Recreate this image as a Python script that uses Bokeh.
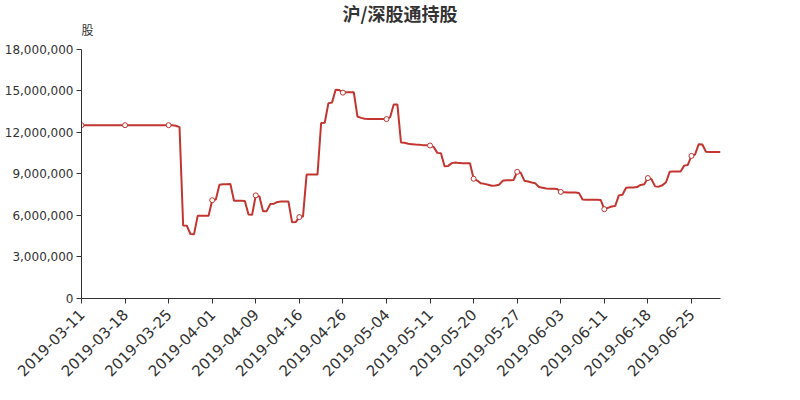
import math
from bokeh.plotting import figure
from bokeh.models import Range1d, FixedTicker, NumeralTickFormatter, Label
from bokeh.embed import file_html
from bokeh.resources import INLINE

# ---- data ----
tick_dates = ["2019-03-11", "2019-03-18", "2019-03-25", "2019-04-01", "2019-04-09",
              "2019-04-16", "2019-04-26", "2019-05-04", "2019-05-11", "2019-05-20",
              "2019-05-27", "2019-06-03", "2019-06-11", "2019-06-18", "2019-06-25"]
label_step = 12  # categories between labelled dates

holdings = [
    12520000, 12520000, 12520000, 12520000, 12520000, 12520000, 12520000, 12520000, 12520000, 12520000, 12520000, 12520000,
    12520000, 12520000, 12520000, 12520000, 12520000, 12520000, 12520000, 12520000, 12520000, 12520000, 12520000, 12520000,
    12520000, 12520000, 12480000, 12380000, 5280000, 5260000, 4660000, 4650000, 5970000, 5970000, 5970000, 5980000,
    7100000, 7150000, 8220000, 8250000, 8260000, 8280000, 7060000, 7060000, 7060000, 7050000, 6060000, 6050000,
    7450000, 7380000, 6300000, 6310000, 6820000, 6850000, 6980000, 7000000, 7000000, 7000000, 5500000, 5520000,
    5880000, 5920000, 8950000, 8950000, 8950000, 8950000, 12680000, 12700000, 14100000, 14150000, 15080000, 15060000,
    14870000, 14900000, 14900000, 14900000, 13150000, 13050000, 12980000, 12970000, 12970000, 12970000, 12970000, 12970000,
    12960000, 13100000, 14020000, 14020000, 11270000, 11250000, 11180000, 11150000, 11120000, 11100000, 11080000, 11080000,
    11050000, 10950000, 10520000, 10500000, 9550000, 9580000, 9780000, 9820000, 9780000, 9770000, 9770000, 9770000,
    8650000, 8520000, 8320000, 8280000, 8220000, 8150000, 8160000, 8220000, 8500000, 8550000, 8550000, 8560000,
    9150000, 9080000, 8500000, 8450000, 8380000, 8320000, 8050000, 8000000, 7940000, 7920000, 7920000, 7910000,
    7700000, 7680000, 7660000, 7650000, 7650000, 7630000, 7150000, 7130000, 7130000, 7130000, 7130000, 7120000,
    6450000, 6550000, 6650000, 6680000, 7450000, 7500000, 8000000, 8020000, 8020000, 8050000, 8200000, 8250000,
    8700000, 8620000, 8100000, 8080000, 8180000, 8400000, 9150000, 9170000, 9170000, 9180000, 9600000, 9650000,
    10300000, 10400000, 11150000, 11120000, 10600000, 10580000, 10580000, 10580000, 10580000,
]
y_ticks = [0, 3000000, 6000000, 9000000, 12000000, 15000000, 18000000]

title_text = "沪/深股通持股"
y_name = "股"

# ---- layout constants (pixels) ----
FRAME_H = 299          # frame spans the full height above the x axis
AXIS_H = 250           # height of the 0..18M axis
y_top = y_ticks[-1] * FRAME_H / AXIS_H   # data value at the frame's top edge
RED = "#c23531"
INK = "#333333"

n = len(holdings)
idx = list(range(n))

p = figure(width=784, height=384, output_backend="svg", toolbar_location=None,
           x_range=Range1d(0, n - 1), y_range=Range1d(0, y_top),
           min_border_left=81, min_border_right=64, min_border_top=0, min_border_bottom=85)
p.outline_line_color = None
p.grid.visible = False
p.background_fill_color = "white"
p.border_fill_color = "white"

# x axis
tick_idx = list(range(0, n, label_step))
p.xaxis.ticker = FixedTicker(ticks=tick_idx)
p.xaxis.major_label_overrides = {i: d for i, d in zip(tick_idx, tick_dates)}
p.xaxis.major_label_orientation = math.pi / 4
p.xaxis.major_label_text_font = "DejaVu Sans"
p.xaxis.major_label_text_font_size = "15px"
p.xaxis.major_label_text_color = INK
p.xaxis.axis_line_color = INK
p.xaxis.major_tick_line_color = INK
p.xaxis.major_tick_in = 0
p.xaxis.major_tick_out = 5
p.xaxis.minor_tick_line_color = None
p.xaxis.major_label_standoff = 8

# y axis (line and ticks only over 0..18M)
p.yaxis.ticker = FixedTicker(ticks=y_ticks)
p.yaxis.bounds = (y_ticks[0], y_ticks[-1])
p.yaxis.formatter = NumeralTickFormatter(format="0,0")
p.yaxis.major_label_text_font = "DejaVu Sans"
p.yaxis.major_label_text_font_size = "12px"
p.yaxis.major_label_text_color = INK
p.yaxis.axis_line_color = INK
p.yaxis.major_tick_line_color = INK
p.yaxis.major_tick_in = 0
p.yaxis.major_tick_out = 5
p.yaxis.minor_tick_line_color = None
p.yaxis.major_label_standoff = 3

# series
p.line(idx, holdings, line_color=RED, line_width=2)
p.scatter([idx[i] for i in tick_idx], [holdings[i] for i in tick_idx], marker="circle",
          size=5, fill_color="white", line_color=RED, line_width=1)

# title and axis name (inside the frame's upper band)
p.add_layout(Label(x=(n - 1) / 2, y=y_top, y_offset=-12, x_offset=-1, text=title_text,
                   text_align="center", text_baseline="middle",
                   text_font="Noto Sans CJK SC", text_font_size="18px", text_font_style="bold",
                   text_color=INK))
p.add_layout(Label(x=0, y=y_top, y_offset=-29, text=y_name, text_align="left", text_baseline="middle",
                   text_font="Noto Sans CJK SC", text_font_size="12px", text_color=INK))

open("out.html", "w").write(file_html(p, INLINE))
